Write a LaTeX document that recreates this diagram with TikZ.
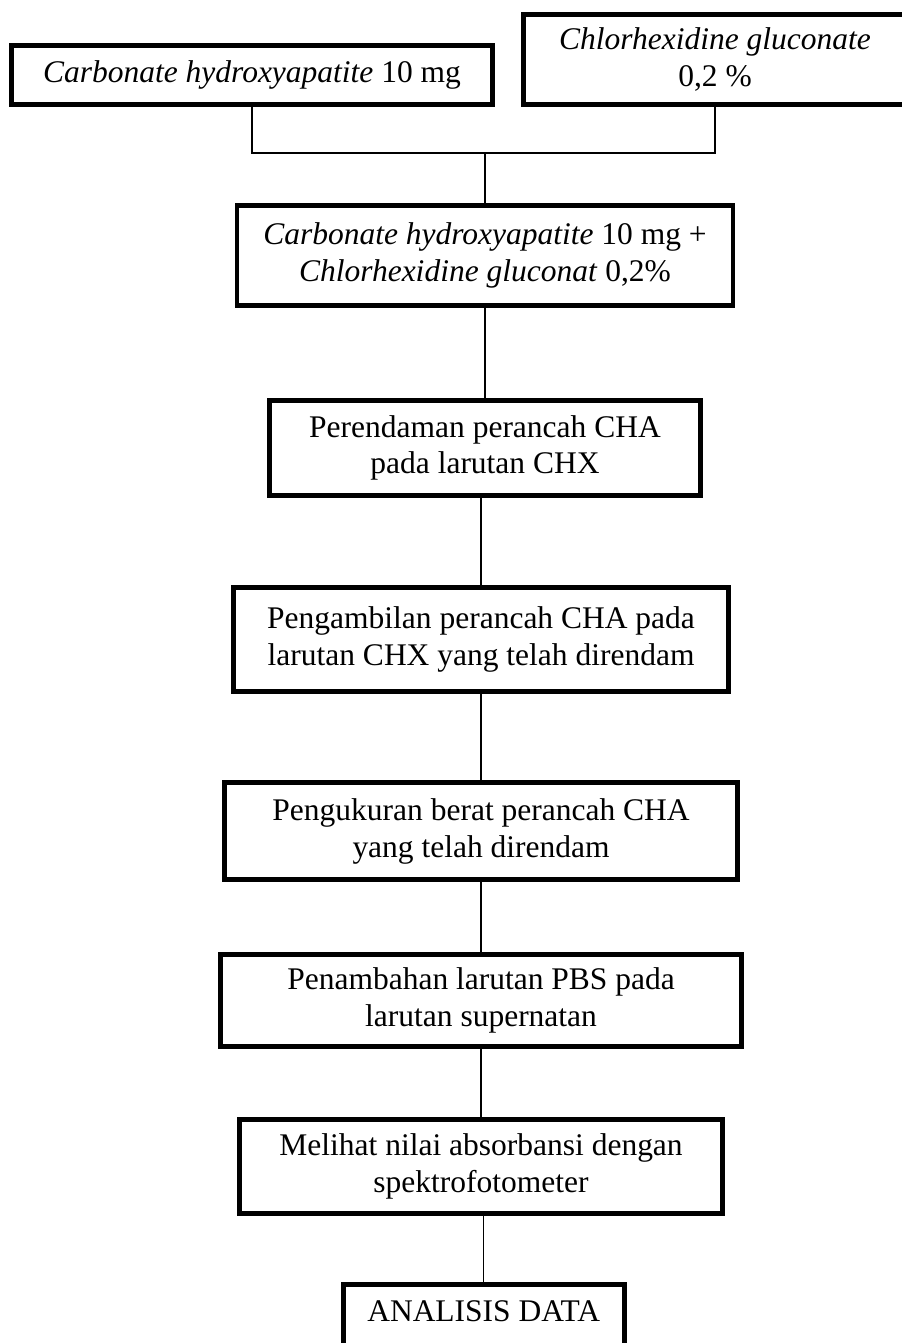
\documentclass[tikz,border=0pt]{standalone}
\usepackage{fontspec}
\setmainfont{Liberation Serif}
\usetikzlibrary{positioning}

\begin{document}
\begin{tikzpicture}[x=0.381pt, y=-0.381pt,
    stepbox/.style 2 args={draw, line width=1.9pt, align=center, inner sep=0pt,
        font=\fontsize{12}{14}\selectfont,
        minimum width=(#1-5)*0.381pt, minimum height=(#2-5)*0.381pt},
    link/.style={line width=0.5pt}]
    \useasboundingbox (0,0) rectangle (901,1343);

    % Starting materials
    \node (cha) [stepbox={486}{64}] at (252,75) {\textit{Carbonate hydroxyapatite} 10 mg};
    \node (chx) [stepbox={388}{95}] at (715,59.5) {\textit{Chlorhexidine gluconate}\\0,2 \%};

    % Mixture and the steps below it
    \node (mix) [stepbox={501}{105}] at (485,255.5)
        {\textit{Carbonate hydroxyapatite} 10 mg +\\\textit{Chlorhexidine gluconat} 0,2\%};
    \node (soak) [stepbox={436}{100}, below=34.3pt of mix] {Perendaman perancah CHA\\pada larutan CHX};
    \node (take) [stepbox={500}{109}, below=33.15pt of soak, xshift=-1.5pt] {Pengambilan perancah CHA pada\\larutan CHX yang telah direndam};
    \node (weigh) [stepbox={518}{102}, below=32.8pt of take] {Pengukuran berat perancah CHA\\yang telah direndam};
    \node (pbs) [stepbox={526}{97}, below=26.7pt of weigh] {Penambahan larutan PBS pada\\larutan supernatan};
    \node (absorb) [stepbox={488}{99}, below=25.9pt of pbs] {Melihat nilai absorbansi dengan\\spektrofotometer};
    % last box runs off the bottom edge
    \node (data) [stepbox={286}{72}, text depth=5pt, below=25.1pt of absorb, xshift=1pt] {ANALISIS DATA};

    % Bracket joining the two materials
    \coordinate (join) at (485,153);
    \draw[link] (cha.south) |- (join) -| (chx.south);
    \draw[link] (join) -- (mix.north);

    % Vertical links between the steps
    \foreach \a/\b in {mix/soak, soak/take, take/weigh, weigh/pbs, pbs/absorb}
        \draw[link] (\a.south -| \b.north) -- (\b.north);
    \draw[link] (absorb.south -| data.north) -- (data.north);
\end{tikzpicture}
\end{document}
